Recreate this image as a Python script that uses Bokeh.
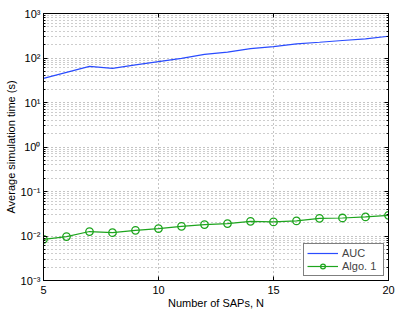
from bokeh.plotting import figure
from bokeh.models import (Range1d, FixedTicker, LinearAxis, LogAxis, Legend,
                          LegendItem, CustomJSTickFormatter)
from bokeh.embed import file_html
from bokeh.resources import INLINE

n_saps = list(range(5, 21))
auc_time = [34.9, 47.6, 65, 58.6, 70, 83, 98, 121, 136, 163, 181, 208, 226, 247, 269, 308]
algo1_time = [0.0084, 0.0097, 0.0126, 0.0119, 0.0134, 0.0147, 0.0165, 0.0181,
              0.0190, 0.0214, 0.0207, 0.0218, 0.0250, 0.0254, 0.0268, 0.0292]
y_ticks = [1e-3, 1e-2, 1e-1, 1, 10, 100, 1000]
y_tick_labels = ["10\u207b\u00b3", "10\u207b\u00b2", "10\u207b\u00b9", "10\u2070",
                 "10\u00b9", "10\u00b2", "10\u00b3"]
x_ticks = [5, 10, 15, 20]
y_minor = [m * d for d in y_ticks[:-1] for m in range(2, 10)]

FONT = "Liberation Sans"
BLUE = "#2a4cff"
GREEN = "#1ea51e"

p = figure(frame_width=345, frame_height=267, y_axis_type="log",
           x_range=Range1d(5, 20), y_range=Range1d(1e-3, 1e3),
           output_backend="svg", toolbar_location=None,
           min_border_left=43, min_border_right=11, min_border_top=13, min_border_bottom=32)
p.outline_line_color = "black"
p.outline_line_width = 1
p.background_fill_color = "white"

l1 = p.line(n_saps, auc_time, line_color=BLUE, line_width=1.2)
l2 = p.line(n_saps, algo1_time, line_color=GREEN, line_width=1.2)
c2 = p.scatter(n_saps, algo1_time, marker="circle", size=7.5, fill_color=None,
               line_color=GREEN, line_width=1.3)

fmt = CustomJSTickFormatter(args=dict(tvals=y_ticks, tlabels=y_tick_labels), code="""
const i = tvals.findIndex(t => Math.abs(Math.log10(t) - Math.log10(tick)) < 1e-6);
return i >= 0 ? tlabels[i] : "";
""")
blank = CustomJSTickFormatter(code='return "";')

yt = FixedTicker(ticks=y_ticks, minor_ticks=y_minor)
xt = FixedTicker(ticks=x_ticks, minor_ticks=[])

ya = p.yaxis[0]
ya.ticker = yt
ya.formatter = fmt
xa = p.xaxis[0]
xa.ticker = xt

for ax in (ya, xa):
    ax.major_tick_in = 4
    ax.major_tick_out = 0
    ax.minor_tick_in = 2
    ax.minor_tick_out = 0
    ax.axis_line_color = "black"
    ax.major_label_text_font = FONT
    ax.major_label_text_font_size = "11px"
    ax.major_label_text_color = "black"
    ax.axis_label_text_font = FONT
    ax.axis_label_text_font_size = "11px"
    ax.axis_label_text_font_style = "normal"
    ax.axis_label_text_color = "black"

ya.axis_label = "Average simulation time (s)"
ya.major_label_standoff = 3
ya.axis_label_standoff = 1
xa.axis_label = "Number of SAPs, N"
xa.major_label_standoff = 5
xa.axis_label_standoff = 0

ra = LogAxis(ticker=yt, formatter=blank, major_tick_in=4, major_tick_out=0, minor_tick_in=2,
             minor_tick_out=0, major_label_text_font_size="1px", major_label_standoff=0,
             axis_label_standoff=0, axis_line_color="black")
ta = LinearAxis(ticker=xt, formatter=blank, major_tick_in=4, major_tick_out=0, minor_tick_in=0,
                minor_tick_out=0, major_label_text_font_size="1px", major_label_standoff=0,
                axis_label_standoff=0, axis_line_color="black")
p.add_layout(ra, "right")
p.add_layout(ta, "above")

p.ygrid.ticker = yt
p.xgrid.ticker = xt
for g in (p.xgrid, p.ygrid):
    g.grid_line_color = "#8a8a8a"
    g.grid_line_dash = "1 3"
    g.grid_line_width = 1
p.ygrid.minor_grid_line_color = "#9a9a9a"
p.ygrid.minor_grid_line_dash = "1 3"
p.ygrid.minor_grid_line_width = 1

legend = Legend(items=[LegendItem(label="AUC", renderers=[l1]),
                       LegendItem(label="Algo. 1", renderers=[l2, c2])],
                location="bottom_right")
legend.border_line_color = "black"
legend.border_line_width = 1
legend.background_fill_alpha = 1
legend.label_text_font = FONT
legend.label_text_font_size = "11px"
legend.glyph_width = 31
legend.glyph_height = 12
legend.label_height = 12
legend.label_width = 38
legend.spacing = 1
legend.padding = 3
legend.margin = 4
legend.label_standoff = 4
p.add_layout(legend)

open("out.html", "w").write(file_html(p, INLINE))
